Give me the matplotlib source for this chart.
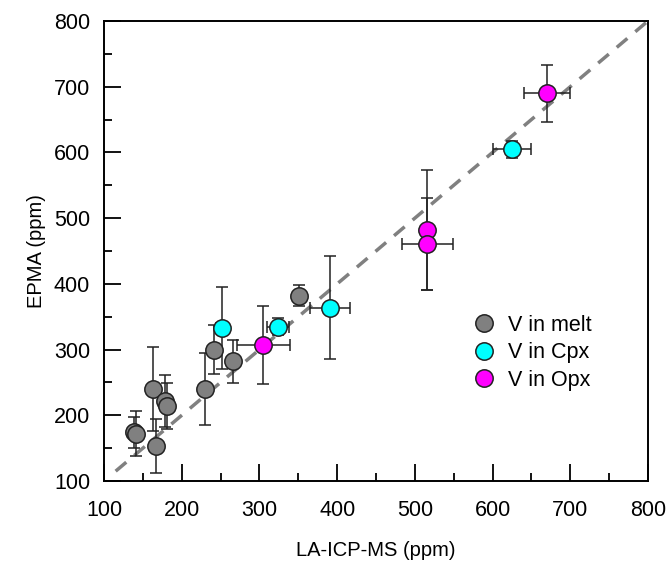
import matplotlib
matplotlib.use("Agg")
import matplotlib.pyplot as plt
from matplotlib.ticker import MultipleLocator

plt.rcParams['font.family'] = ['Liberation Sans', 'DejaVu Sans']

# V in melt
melt_x = [139, 141, 167, 163, 178, 181, 230, 241, 266, 351]
melt_y = [174, 172, 153, 240, 222, 214, 240, 300, 282, 382]
melt_xerr = [5, 5, 6, 5, 6, 6, 6, 6, 6, 5]
melt_yerr = [23, 34, 41, 64, 40, 35, 55, 37, 33, 16]

# V in Cpx
cpx_x = [252, 324, 391, 625]
cpx_y = [333, 335, 364, 605]
cpx_xerr = [8, 14, 26, 24]
cpx_yerr = [63, 13, 78, 13]

# V in Opx
opx_x = [305, 516, 516, 670]
opx_y = [307, 482, 460, 690]
opx_xerr = [34, 4, 33, 30]
opx_yerr = [60, 92, 70, 43]

line_ends = [115, 800]

fig = plt.figure(figsize=(6.68, 5.63), dpi=100)
ax = fig.add_axes([0.1557, 0.1456, 0.8143, 0.8171])

ax.plot(line_ends, line_ends, linestyle=(0, (4, 3)), color='#808080', lw=2.5, zorder=1)

series = [
    (melt_x, melt_y, melt_xerr, melt_yerr, '#808080', 'V in melt'),
    (cpx_x, cpx_y, cpx_xerr, cpx_yerr, '#00ffff', 'V in Cpx'),
    (opx_x, opx_y, opx_xerr, opx_yerr, '#ff00ff', 'V in Opx'),
]
for x, y, xe, ye, c, lab in series:
    ax.errorbar(x, y, xerr=xe, yerr=ye, fmt='none', ecolor='#222222',
                elinewidth=1.1, capsize=4, capthick=1.1, zorder=2)
    ax.plot(x, y, 'o', ms=12.5, mfc=c, mec='#222222', mew=1.1, ls='none',
            label=lab, zorder=3)

ax.set_xlim(100, 800)
ax.set_ylim(100, 800)
ax.xaxis.set_major_locator(MultipleLocator(100))
ax.yaxis.set_major_locator(MultipleLocator(100))
ax.xaxis.set_minor_locator(MultipleLocator(50))
ax.yaxis.set_minor_locator(MultipleLocator(50))
ax.tick_params(which='both', direction='in', top=False, right=False,
               width=1.3, labelsize=15.5)
ax.tick_params(axis='x', which='both', pad=14)
ax.tick_params(axis='y', which='both', pad=10)
ax.tick_params(which='major', length=12)
ax.tick_params(which='minor', length=6)
for s in ax.spines.values():
    s.set_linewidth(1.4)

ax.set_xlabel('LA-ICP-MS (ppm)', fontsize=14.5, labelpad=14)
ax.set_ylabel('EPMA (ppm)', fontsize=14.5, labelpad=6)

ax.legend(loc='upper left', bbox_to_anchor=(0.655, 0.385), frameon=False,
          fontsize=15.5, handletextpad=0.5, labelspacing=0.3, borderpad=0,
          handlelength=1.2)

fig.savefig('out.png', dpi=100)
